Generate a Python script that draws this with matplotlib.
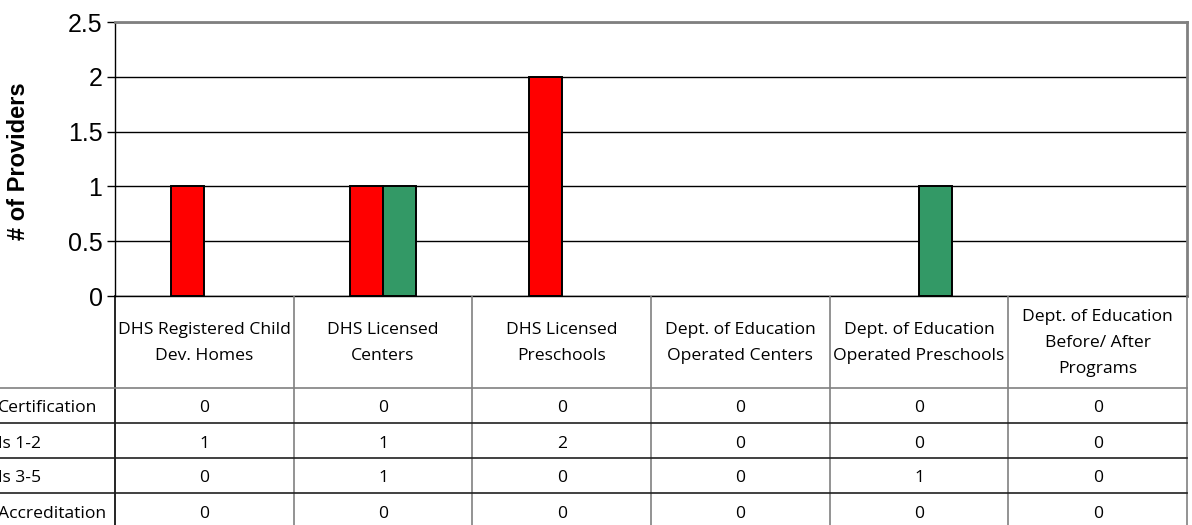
import matplotlib
matplotlib.use("Agg")
import matplotlib.pyplot as plt
import numpy as np

# ---- data ----
categories = ["DHS Registered Child\nDev. Homes", "DHS Licensed\nCenters", "DHS Licensed\nPreschools",
              "Dept. of Education\nOperated Centers", "Dept. of Education\nOperated Preschools",
              "Dept. of Education\nBefore/ After\nPrograms"]
series_labels = ["Certification", "ls 1-2", "ls 3-5", "Accreditation"]
no_certification = [0, 0, 0, 0, 0, 0]
levels_1_2 = [1, 1, 2, 0, 0, 0]
levels_3_5 = [0, 1, 0, 0, 1, 0]
accreditation = [0, 0, 0, 0, 0, 0]
series_values = [no_certification, levels_1_2, levels_3_5, accreditation]
series_colors = ["#9999FF", "#FF0000", "#339966", "#FFFF99"]
y_ticks = [0, 0.5, 1, 1.5, 2, 2.5]
y_tick_labels = ["0", "0.5", "1", "1.5", "2", "2.5"]

W, H = 1192, 525
fig = plt.figure(figsize=(W / 100, H / 100), dpi=100)

# plot area in pixel coords
L, R, T, B = 115, 1187, 22, 296
ax = fig.add_axes([L / W, 1 - B / H, (R - L) / W, (B - T) / H])

n = len(categories)
x = np.arange(n)
bw = 0.185
for i, vals in enumerate(series_values):
    edges = ["black" if v > 0 else "none" for v in vals]
    ax.bar(x + (i - 1.5) * bw, vals, width=bw, color=series_colors[i],
           edgecolor=edges, linewidth=1.4, zorder=3)

ax.set_xlim(-0.5, n - 0.5)
ax.set_ylim(0, 2.5)
ax.set_yticks(y_ticks)
ax.set_yticklabels(y_tick_labels, fontfamily="Liberation Sans", fontsize=18)
ax.set_xticks([])
ax.yaxis.grid(True, color="#000000", linewidth=1.0, zorder=0)
ax.tick_params(axis="y", length=6, width=1, color="#000000", pad=3)
for s in ["top", "right"]:
    ax.spines[s].set_color("#808080")
    ax.spines[s].set_linewidth(2)
for s in ["left", "bottom"]:
    ax.spines[s].set_color("#000000")
    ax.spines[s].set_linewidth(1)

fig.text(19 / W, 1 - 161 / H, "# of Providers", rotation=90, ha="center", va="center",
         fontfamily="Liberation Sans", fontweight="bold", fontsize=17)

# ---- data table overlay in pixel coords ----
ov = fig.add_axes([0, 0, 1, 1], facecolor="none")
ov.set_xlim(0, W)
ov.set_ylim(H, 0)
ov.axis("off")

col_w = (R - L) / n
header_bottom = 388
row_h = 35
tfont = dict(fontfamily="Open Sans", fontsize=12.6, color="black")

# column separators
for j in range(1, n + 1):
    xx = L + j * col_w
    ov.plot([xx, xx], [B, H + 5], color="#808080", linewidth=1.2, solid_capstyle="butt")
ov.plot([L, L], [B, H + 5], color="black", linewidth=1.2)

# horizontal lines
ov.plot([0, R], [header_bottom, header_bottom], color="#808080", linewidth=1.2)
for k in range(1, len(series_labels)):
    yy = header_bottom + k * row_h
    ov.plot([0, R], [yy, yy], color="#202020", linewidth=1.2)

# header labels
for j, cat in enumerate(categories):
    cx = L + (j + 0.5) * col_w
    ov.text(cx, (B + header_bottom) / 2 + 1, cat, ha="center", va="center",
            linespacing=1.87, **tfont)

# rows
for i, lab in enumerate(series_labels):
    cy = header_bottom + (i + 0.5) * row_h + 3
    ov.text(-2, cy, lab, ha="left", va="center", **tfont)
    for j in range(n):
        cx = L + (j + 0.5) * col_w
        ov.text(cx, cy, str(series_values[i][j]), ha="center", va="center", **tfont)

fig.savefig("out.png", dpi=100)
